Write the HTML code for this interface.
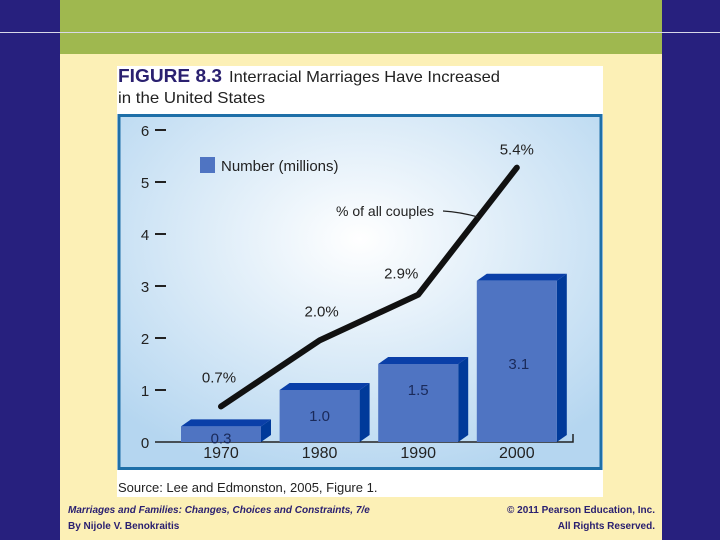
<!DOCTYPE html>
<html><head><meta charset="utf-8"><style>
html,body{margin:0;width:720px;height:540px;overflow:hidden;background:#27207e;font-family:"Liberation Sans",sans-serif}
svg{display:block}
</style></head><body>
<svg width="720" height="540" xmlns="http://www.w3.org/2000/svg">
<defs>
<radialGradient id="bg" cx="0.5" cy="0.35" r="0.7">
<stop offset="0" stop-color="#ffffff"/><stop offset="1" stop-color="#b5d6f0"/>
</radialGradient>
</defs>
<rect x="0" y="0" width="720" height="540" fill="#27207e"/>
<rect x="60" y="0" width="602" height="54" fill="#9fb84f"/>
<rect x="60" y="54" width="602" height="486" fill="#fcf0b6"/>
<line x1="0" y1="32.5" x2="720" y2="32.5" stroke="#d8d8e8" stroke-width="1"/>
<rect x="117" y="66" width="486" height="431" fill="#ffffff"/>
<text x="118" y="82" font-size="18" font-weight="bold" fill="#2a2070" textLength="104" lengthAdjust="spacingAndGlyphs">FIGURE 8.3</text>
<text x="229" y="82" font-size="16" fill="#222" textLength="271" lengthAdjust="spacingAndGlyphs">Interracial Marriages Have Increased</text>
<text x="118" y="103" font-size="16" fill="#222" textLength="147" lengthAdjust="spacingAndGlyphs">in the United States</text>
<rect x="119" y="115.5" width="482" height="353" fill="url(#bg)" stroke="#1e6fa8" stroke-width="3"/>
<g id="chart"></g>
<text x="118" y="492" font-size="13" fill="#222">Source: Lee and Edmonston, 2005, Figure 1.</text>
<text x="68" y="513" font-size="10" font-style="italic" font-weight="bold" fill="#2a2070">Marriages and Families: Changes, Choices and Constraints, 7/e</text>
<text x="68" y="529" font-size="10" font-weight="bold" fill="#2a2070">By Nijole V. Benokraitis</text>
<text x="655" y="513" font-size="10" font-weight="bold" fill="#2a2070" text-anchor="end">© 2011 Pearson Education, Inc.</text>
<text x="655" y="529" font-size="10" font-weight="bold" fill="#2a2070" text-anchor="end">All Rights Reserved.</text>
</svg>
<script>
const categories=["1970","1980","1990","2000"];
const numbers=[0.3,1.0,1.5,3.1];
const percents=[0.7,2.0,2.9,5.4];
const yTicks=[0,1,2,3,4,5,6];
const NS="http://www.w3.org/2000/svg";
const g=document.getElementById('chart');
function yN(v){return 442-v*52;}
function yP(v){return 442-v*50.8;}
function xC(i){return 221+i*98.6;}
function mk(t,a,txt){const e=document.createElementNS(NS,t);for(const k in a)e.setAttribute(k,a[k]);if(txt!=null)e.textContent=txt;g.appendChild(e);return e;}
yTicks.forEach(v=>{
 const t=mk('text',{x:145,y:yN(v)+6,'font-size':15,fill:'#222','text-anchor':'middle'},String(v));
 
 
 if(v>0){const l=mk('line',{x1:155,x2:166,y1:yN(v),y2:yN(v),stroke:'#222','stroke-width':2});
 
 }
});
const ax=mk('path',{d:'M155 442 H573 V434',stroke:'#222','stroke-width':1.5,fill:'none'});


categories.forEach((c,i)=>{
 const x0=xC(i)-40,w=80,top=yN(numbers[i]),d=10,u=7;
 const s=mk('polygon',{points:`${x0+w},${top} ${x0+w+d},${top-u} ${x0+w+d},${442-u} ${x0+w},442`,fill:'#003a9a'});
 
 
 const tp=mk('polygon',{points:`${x0},${top} ${x0+d},${top-u} ${x0+w+d},${top-u} ${x0+w},${top}`,fill:'#0a3fa8'});
 
 
 const b=mk('rect',{x:x0,y:top,width:w,height:442-top,fill:'#4f74c2'});
 
 
 const ly=i===0?top+17:i===3?top+88:top+31;
 const vl=mk('text',{x:xC(i)+(i===3?2:0),y:ly,'font-size':15,fill:'#1a2a5a','text-anchor':'middle'},numbers[i].toFixed(1));
 
 
 const xl=mk('text',{x:xC(i),y:458,'font-size':16,fill:'#222','text-anchor':'middle'},c);
 
 
});
const pts=percents.map((p,i)=>[xC(i),yP(p)]);
const ln=mk('polyline',{points:pts.map(p=>p.join(',')).join(' '),fill:'none',stroke:'#111','stroke-width':6,'stroke-linecap':'round','stroke-linejoin':'round'});


const off=[[-2,-24],[2,-24],[-17,-16],[0,-13]];
percents.forEach((p,i)=>{
 const t=mk('text',{x:pts[i][0]+off[i][0],y:pts[i][1]+off[i][1],'font-size':15,fill:'#222','text-anchor':'middle'},p.toFixed(1)+'%');
 
 
});
const lsq=mk('rect',{x:200,y:157,width:15,height:16,fill:'#4f74c2'});


const lt=mk('text',{x:221,y:171,'font-size':15,fill:'#222'},'Number (millions)');


const ct=mk('text',{x:336,y:216,'font-size':14,fill:'#222'},'% of all couples');


const cl=mk('path',{d:'M443 211 Q460 212 478 217',stroke:'#222','stroke-width':1.2,fill:'none'});


</script>
</body></html>
